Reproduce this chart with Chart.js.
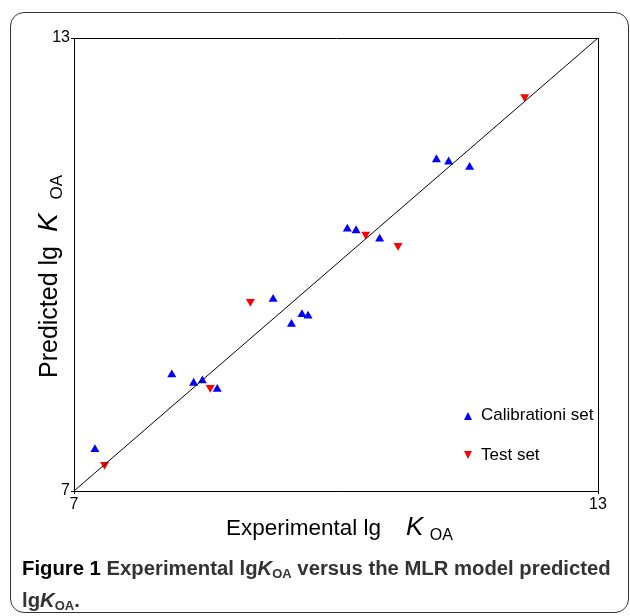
<!DOCTYPE html>
<html>
<head>
<meta charset="utf-8">
<script src="https://cdn.jsdelivr.net/npm/chart.js@4.4.1/dist/chart.umd.min.js"></script>
<style>
    html, body { margin: 0; padding: 0; background: #fff; }
    body { width: 630px; height: 616px; position: relative; overflow: hidden; font-family: "Liberation Sans", Arial, Helvetica, sans-serif; color: #000; }
    #frame { position: absolute; left: 10px; top: 12px; width: 619px; height: 601px; border: 1.5px solid #333; border-radius: 14px; box-sizing: border-box; }
    #chart { position: absolute; left: 0; top: 0; }
    .txt { position: absolute; white-space: pre; }
    .k { font-style: italic; }
    .sub { position: relative; }
    #xTitle { left: 226px; top: 511px; font-size: 22.5px; line-height: 30px; }
    #xTitle .k { font-size: 26px; }
    #xTitle .sub { font-size: 16px; top: 5px; }
    #yTitle { left: 33px; top: 378px; font-size: 25px; line-height: 30px; transform-origin: left top; transform: rotate(-90deg); }
    #yTitle .k { font-size: 28px; }
    #yTitle .sub { font-size: 17px; top: 5px; }
    .leg { font-size: 17px; line-height: 20px; }
    .up { position: absolute; width: 0; height: 0; border-left: 4.5px solid transparent; border-right: 4.5px solid transparent; border-bottom: 8px solid #0000ff; }
    .down { position: absolute; width: 0; height: 0; border-left: 4.5px solid transparent; border-right: 4.5px solid transparent; border-top: 8px solid #ff0000; }
    #caption { left: 22px; top: 555px; font-size: 20.3px; line-height: 26px; font-weight: bold; color: #333; }
    #caption b { color: #000; }
    #caption sub { font-size: 13px; vertical-align: -3px; }
</style>
</head>
<body>
<div id="frame"></div>
<canvas id="chart" width="630" height="616"></canvas>

<div class="txt" id="xTitle">Experimental lg    <span class="k">K</span> <span class="sub">OA</span></div>
<div class="txt" id="yTitle">Predicted lg  <span class="k">K</span>  <span class="sub">OA</span></div>

<div class="up" style="left:463.5px; top:412px;"></div>
<div class="txt leg" style="left:481px; top:405px;">Calibrationi set</div>
<div class="down" style="left:463.5px; top:451px;"></div>
<div class="txt leg" style="left:481px; top:445px;">Test set</div>

<div class="txt" id="caption"><b>Figure 1</b> Experimental lg<i>K</i><sub>OA</sub> versus the MLR model predicted
lg<i>K</i><sub>OA</sub>.</div>

<script>
const calExp = [7.24, 8.12, 8.37, 8.47, 8.64, 9.28, 9.49, 9.61, 9.68, 10.13, 10.23, 10.50, 11.15, 11.29, 11.53];
const calPred = [7.55, 8.54, 8.43, 8.46, 8.35, 9.54, 9.21, 9.34, 9.32, 10.47, 10.45, 10.34, 11.39, 11.36, 11.29];
const testExp = [7.35, 8.56, 9.02, 10.34, 10.71, 12.16];
const testPred = [7.35, 8.37, 9.51, 10.40, 10.25, 12.22];
const axisMin = 7;
const axisMax = 13;

function toPoints(xs, ys) {
    let pts = [];
    for (let i = 0; i < xs.length; i++) {
        pts.push({ x: xs[i], y: ys[i] });
    }
    return pts;
}

const tickFont = { family: "'Liberation Sans', Arial, Helvetica, sans-serif", size: 16 };

function axisOptions(fit) {
    return {
        type: 'linear',
        min: axisMin,
        max: axisMax,
        ticks: { stepSize: axisMax - axisMin, color: '#000', font: tickFont, padding: 1 },
        grid: { display: true, color: '#000', lineWidth: 1, drawTicks: true, tickLength: 3 },
        border: { display: true, color: '#000', width: 1 },
        title: { display: false },
        afterFit: fit
    };
}

new Chart(document.getElementById('chart'), {
    type: 'scatter',
    data: {
        datasets: [
            {
                type: 'line',
                label: 'y = x',
                data: toPoints([axisMin, axisMax], [axisMin, axisMax]),
                borderColor: '#000',
                borderWidth: 1,
                pointRadius: 0,
                fill: false
            },
            {
                label: 'Calibrationi set',
                data: toPoints(calExp, calPred),
                pointStyle: 'triangle',
                pointRadius: 5.2,
                backgroundColor: '#0000ff',
                borderColor: '#0000ff',
                borderWidth: 0
            },
            {
                label: 'Test set',
                data: toPoints(testExp, testPred),
                pointStyle: 'triangle',
                pointRotation: 180,
                pointRadius: 5.2,
                backgroundColor: '#ff0000',
                borderColor: '#ff0000',
                borderWidth: 0
            }
        ]
    },
    options: {
        responsive: false,
        animation: false,
        clip: false,
        layout: { padding: { left: 0, top: 38, right: 32, bottom: 100 } },
        plugins: {
            legend: { display: false },
            tooltip: { enabled: false }
        },
        scales: {
            x: axisOptions(s => { s.height = 25; }),
            y: axisOptions(s => { s.width = 74; })
        }
    }
});
</script>
</body>
</html>
